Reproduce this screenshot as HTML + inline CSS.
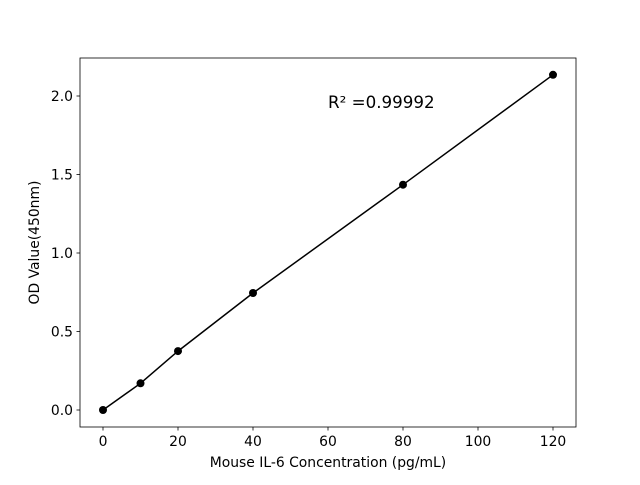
<!DOCTYPE html>
<html><head><meta charset="utf-8"><style>
body{margin:0;background:#fff}
svg text{font-family:"DejaVu Sans","Liberation Sans",sans-serif;font-size:13.9px;fill:#000}
</style></head><body>
<svg width="640" height="480" xmlns="http://www.w3.org/2000/svg">
<rect x="80" y="58" width="496" height="369" fill="none" stroke="#000" stroke-width="0.8"/>
<g stroke="#000" stroke-width="0.8">
<line x1="103" y1="427" x2="103" y2="430.5"/>
<line x1="178" y1="427" x2="178" y2="430.5"/>
<line x1="253" y1="427" x2="253" y2="430.5"/>
<line x1="328" y1="427" x2="328" y2="430.5"/>
<line x1="403" y1="427" x2="403" y2="430.5"/>
<line x1="478" y1="427" x2="478" y2="430.5"/>
<line x1="553" y1="427" x2="553" y2="430.5"/>
<line x1="76.5" y1="410" x2="80" y2="410"/>
<line x1="76.5" y1="331.5" x2="80" y2="331.5"/>
<line x1="76.5" y1="253" x2="80" y2="253"/>
<line x1="76.5" y1="174.5" x2="80" y2="174.5"/>
<line x1="76.5" y1="96" x2="80" y2="96"/>
</g>
<g text-anchor="middle">
<text x="103" y="446">0</text>
<text x="178" y="446">20</text>
<text x="253" y="446">40</text>
<text x="328" y="446">60</text>
<text x="403" y="446">80</text>
<text x="478" y="446">100</text>
<text x="553" y="446">120</text>
<text x="328" y="467">Mouse IL-6 Concentration (pg/mL)</text>
</g>
<g text-anchor="end">
<text x="73" y="415">0.0</text>
<text x="73" y="336.5">0.5</text>
<text x="73" y="258">1.0</text>
<text x="73" y="179.5">1.5</text>
<text x="73" y="101">2.0</text>
</g>
<text transform="translate(39,242.5) rotate(-90)" text-anchor="middle">OD Value(450nm)</text>
<text x="328" y="108" style="font-size:16.7px">R² =0.99992</text>
<polyline fill="none" stroke="#000" stroke-width="1.5" points="103,410 140.5,383.3 178,351.1 253,293 403,184.7 553,74.8"/>
<g fill="#000">
<circle cx="103" cy="410" r="4"/>
<circle cx="140.5" cy="383.3" r="4"/>
<circle cx="178" cy="351.1" r="4"/>
<circle cx="253" cy="293" r="4"/>
<circle cx="403" cy="184.7" r="4"/>
<circle cx="553" cy="74.8" r="4"/>
</g>
</svg>
</body></html>
